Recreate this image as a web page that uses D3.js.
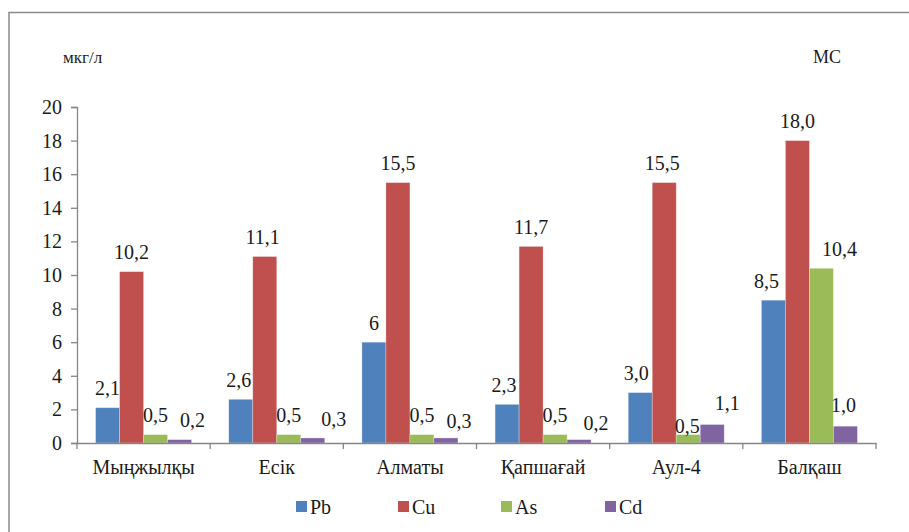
<!DOCTYPE html>
<html>
<head>
<meta charset="utf-8">
<script src="https://cdn.jsdelivr.net/npm/d3@7"></script>
<style>
  html, body { margin: 0; padding: 0; background: #fff; }
  svg { display: block; }
</style>
</head>
<body>
<svg id="chart" width="909" height="532"></svg>
<script>
// Heavy-metal concentrations by monitoring site
const categories = ["Мыңжылқы", "Есік", "Алматы", "Қапшағай", "Аул-4", "Балқаш"];
const seriesNames = ["Pb", "Cu", "As", "Cd"];
const seriesColors = ["#4F81BD", "#C0504D", "#9BBB59", "#8064A2"];

// Values as printed on the labels (decimal comma)
const pbLabels = ["2,1", "2,6", "6", "2,3", "3,0", "8,5"];
const cuLabels = ["10,2", "11,1", "15,5", "11,7", "15,5", "18,0"];
const asLabels = ["0,5", "0,5", "0,5", "0,5", "0,5", "10,4"];
const cdLabels = ["0,2", "0,3", "0,3", "0,2", "1,1", "1,0"];

const yTicks = [0, 2, 4, 6, 8, 10, 12, 14, 16, 18, 20];
const unitLabel = "мкг/л";
const cornerLabel = "МС";

const FONT = "'Liberation Serif', 'Times New Roman', Tinos";
const INK = "#1a1a1a";

const labelSets = [pbLabels, cuLabels, asLabels, cdLabels];
const toNumber = s => +s.replace(",", ".");

const rows = [];
seriesNames.forEach((s, si) => {
  categories.forEach((c, ci) => {
    const label = labelSets[si][ci];
    rows.push({ series: s, category: c, label, value: toNumber(label), color: seriesColors[si] });
  });
});

// Label nudges that keep crowded neighbouring labels apart
const nudge = {
  "Cd|Мыңжылқы": [13, 0], "Cd|Есік": [21, 1], "Cd|Алматы": [13, 3],
  "Cd|Қапшағай": [17, 3], "Cd|Аул-4": [15, -2], "Cd|Балқаш": [-2, -2],
  "As|Аул-4": [-1, 11], "As|Балқаш": [18, 0],
  "Pb|Балқаш": [-7, 0], "Pb|Аул-4": [-4, 0], "Pb|Қапшағай": [-3, 0], "Pb|Есік": [-2, 0],
  "Cu|Есік": [-2, 0], "Cu|Аул-4": [-2, 0]
};
const nudgeOf = d => nudge[d.series + "|" + d.category] || [0, 0];

const svg = d3.select("#chart");

// Outer frame (runs off the right and bottom edges)
svg.append("rect")
  .attr("x", 9).attr("y", 12.5)
  .attr("width", 950).attr("height", 560)
  .attr("fill", "none").attr("stroke", "#8a8a8a").attr("stroke-width", 1.5);

const plot = { left: 77, right: 876, top: 107, bottom: 443 };

const x = d3.scaleBand().domain(categories).range([plot.left, plot.right]).paddingInner(0).paddingOuter(0);
const xs = d3.scaleBand().domain(seriesNames).range([0, x.bandwidth()]).paddingInner(0).paddingOuter(0.775);
const y = d3.scaleLinear().domain([0, 20]).range([plot.bottom, plot.top]);

// Y axis
const yAxis = d3.axisLeft(y).tickValues(yTicks).tickSize(6).tickPadding(9).tickFormat(d3.format("d"));
const gy = svg.append("g").attr("transform", `translate(${plot.left},0)`).call(yAxis);
gy.select(".domain").attr("stroke", "#868686").attr("stroke-width", 1.3);
gy.selectAll(".tick line").attr("stroke", "#868686").attr("stroke-width", 1.3);
gy.selectAll(".tick text")
  .style("font-family", FONT).style("font-size", "20px").style("fill", INK);

// Bars
svg.append("g").selectAll("rect")
  .data(rows)
  .join("rect")
  .attr("x", d => x(d.category) + xs(d.series))
  .attr("y", d => y(d.value))
  .attr("width", xs.bandwidth())
  .attr("height", d => y(0) - y(d.value))
  .attr("fill", d => d.color)
  .attr("stroke", "rgba(255,255,255,0.35)")
  .attr("stroke-width", 0.8);

// X axis
const xAxis = d3.axisBottom(x).tickSize(0).tickPadding(0).tickFormat("");
const gx = svg.append("g").attr("transform", `translate(0,${plot.bottom})`).call(xAxis);
gx.select(".domain").attr("stroke", "#868686").attr("stroke-width", 1.6);
gx.selectAll(".tick").remove();
const boundaries = categories.map(c => x(c)).concat([plot.right]);
gx.selectAll("line.sep")
  .data(boundaries)
  .join("line")
  .attr("class", "sep")
  .attr("x1", d => d).attr("x2", d => d)
  .attr("y1", 0).attr("y2", 6)
  .attr("stroke", "#868686").attr("stroke-width", 1.3);

svg.append("g").selectAll("text")
  .data(categories)
  .join("text")
  .attr("x", d => x(d) + x.bandwidth() / 2)
  .attr("y", 474)
  .attr("text-anchor", "middle")
  .style("font-family", FONT).style("font-size", "20px").style("fill", INK)
  .text(d => d);

// Value labels
svg.append("g").selectAll("text")
  .data(rows)
  .join("text")
  .attr("x", d => x(d.category) + xs(d.series) + xs.bandwidth() / 2 + nudgeOf(d)[0])
  .attr("y", d => y(d.value) - 12.5 + nudgeOf(d)[1])
  .attr("text-anchor", "middle")
  .style("font-family", FONT).style("font-size", "20px").style("fill", INK)
  .text(d => d.label);

// Unit labels
svg.append("text").attr("x", 63).attr("y", 63)
  .style("font-family", FONT).style("font-size", "17px").style("fill", INK)
  .text(unitLabel);
svg.append("text").attr("x", 813).attr("y", 63)
  .style("font-family", FONT).style("font-size", "18px").style("fill", INK)
  .text(cornerLabel);

// Legend
const legendX = [296, 398, 501, 605];
const legend = svg.append("g").selectAll("g")
  .data(seriesNames)
  .join("g")
  .attr("transform", (d, i) => `translate(${legendX[i]},501)`);
legend.append("rect").attr("width", 11).attr("height", 11).attr("fill", (d, i) => seriesColors[i]);
legend.append("text").attr("x", 14).attr("y", 13)
  .style("font-family", FONT).style("font-size", "20px").style("fill", INK)
  .text(d => d);
</script>
</body>
</html>
